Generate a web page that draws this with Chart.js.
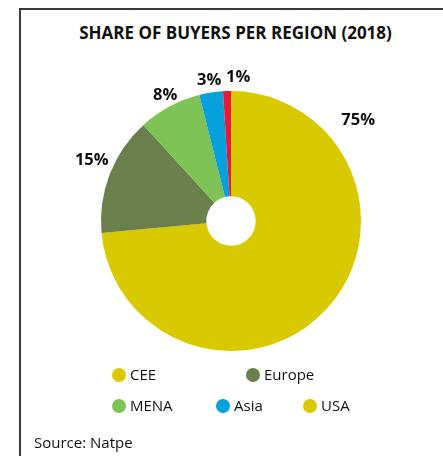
<!DOCTYPE html>
<html>
<head>
<meta charset="utf-8">
<script src="https://cdn.jsdelivr.net/npm/chart.js@4"></script>
<style>
  body { margin: 0; width: 443px; height: 456px; overflow: hidden; background: #fff; font-family: "Open Sans", sans-serif; position: relative; }
  #frame { position: absolute; left: 19px; top: 8px; width: 500px; height: 500px; border: 2px solid #3a3a3a; }
  #title { position: absolute; left: 0; width: 471px; top: 21px; text-align: center; font-weight: bold; font-size: 17px; color: #111; }
  #chart { position: absolute; left: 0; top: 0; }
  .leg { position: absolute; font-size: 15px; color: #111; line-height: 16px; }
  .leg span { display: inline-block; width: 14px; height: 14px; border-radius: 50%; vertical-align: -2px; margin-right: 4px; }
  #source { position: absolute; left: 34px; top: 432px; font-size: 15px; color: #111; }
</style>
</head>
<body>
<div id="frame"></div>
<div id="title">SHARE OF BUYERS PER REGION (2018)</div>
<canvas id="chart" width="443" height="456"></canvas>
<div id="legend"></div>
<div id="source">Source: Natpe</div>
<script>
var regions = ['CEE', 'Europe', 'MENA', 'Asia', 'USA'];
var shares = [75, 15, 8, 3, 1];
var sliceColors = ['#d8c900', '#6b7f4c', '#7dc356', '#06a0dc', '#e8173c'];
// the source legend shows USA in the CEE yellow
var legendColors = ['#d8c900', '#6b7f4c', '#7dc356', '#06a0dc', '#d8c900'];

// label placement nudges (degrees off slice middle, px outside the pie)
var labelTurn = [-80.6, 2.5, 0.6, 0, 4.6];
var labelGap = [32, 22, 12, 12, 14];
var legendSpots = [[112, 366], [246, 366], [112, 397], [216, 397], [303, 397]];

var outsideLabels = {
  id: 'outsideLabels',
  afterDatasetsDraw: function (chart) {
    var ctx = chart.ctx;
    var meta = chart.getDatasetMeta(0);
    ctx.save();
    ctx.font = 'bold 16.5px "Open Sans", sans-serif';
    ctx.fillStyle = '#111';
    ctx.textAlign = 'center';
    ctx.textBaseline = 'middle';
    meta.data.forEach(function (arc, i) {
      var mid = (arc.startAngle + arc.endAngle) / 2 + labelTurn[i] * Math.PI / 180;
      var r = arc.outerRadius + labelGap[i];
      ctx.fillText(shares[i] + '%', arc.x + Math.cos(mid) * r, arc.y + Math.sin(mid) * r);
    });
    ctx.restore();
  }
};

new Chart(document.getElementById('chart'), {
  type: 'doughnut',
  data: {
    labels: regions,
    datasets: [{
      data: shares,
      backgroundColor: sliceColors,
      borderWidth: 0
    }]
  },
  options: {
    responsive: false,
    animation: false,
    cutout: '19%',
    layout: { padding: { top: 91, bottom: 105, left: 101, right: 82 } },
    plugins: { legend: { display: false }, tooltip: { enabled: false } }
  },
  plugins: [outsideLabels]
});

var html = '';
for (var i = 0; i < regions.length; i++) {
  html += '<div class="leg" style="left:' + legendSpots[i][0] + 'px;top:' + legendSpots[i][1] + 'px">' +
    '<span style="background:' + legendColors[i] + '"></span>' + regions[i] + '</div>';
}
document.getElementById('legend').innerHTML = html;
</script>
</body>
</html>
